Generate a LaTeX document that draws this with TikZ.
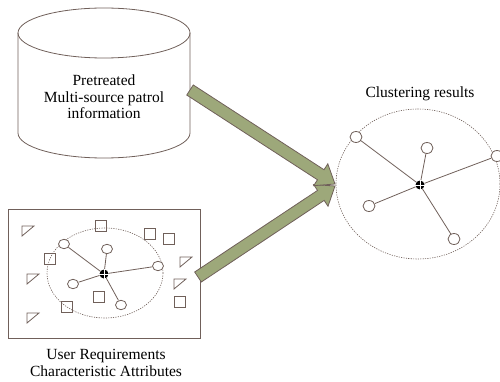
\documentclass[tikz,border=0pt]{standalone}
\usepackage{fontspec}
\setmainfont{Liberation Serif}
\usetikzlibrary{calc,shapes.geometric}
\definecolor{edgec}{RGB}{112,96,90}
\definecolor{arrowfill}{RGB}{157,168,122}
\begin{document}
\begin{tikzpicture}[x=1pt,y=-1pt,
  every node/.style={inner sep=0pt},
  ln/.style={draw=edgec, line width=0.8pt},
  dotted ellipse/.style={draw=edgec, line width=0.6pt, dash pattern=on 1.2pt off 1.2pt},
  smallc/.style={ellipse, draw=edgec, line width=0.8pt, fill=white, minimum width=11pt, minimum height=9.5pt},
  hub/.style={circle, fill=black, minimum size=9pt},
  sq/.style={rectangle, draw=edgec, line width=0.8pt, minimum size=11pt},
  lbl/.style={align=center, font=\fontsize{15.5}{16.5}\selectfont},
  flagpic/.pic={\draw[edgec, line width=0.8pt] (6,-5) -- (-6,-5) -- (-6,5) -- cycle;},
  fatarrow/.style={fill=arrowfill, draw=edgec, line width=0.8pt, line join=miter}
]
\useasboundingbox (0,0) rectangle (500,382);

% cylinder
\draw[ln] (18,33) -- (18,133) arc[start angle=180, end angle=0, x radius=86, y radius=25] -- (190,33);
\draw[ln] (104,33) ellipse[x radius=86, y radius=25];
\node[lbl] (cyl) at (104,97) {Pretreated\\Multi-source patrol\\information};

% left box
\draw[ln] (8,209) rectangle (200,338);
\node[lbl] (req) at (106,363) {User Requirements\\Characteristic Attributes};
\draw[dotted ellipse] (105,273) ellipse[x radius=58, y radius=45];
\foreach \p in {(101,226),(150,234),(169,239),(50,259),(99,297),(67,307),(180,302)}
  \node[sq] at \p {};
\foreach \p in {(28,231),(186,262),(33,279),(180,284),(33,318)}
  \pic at \p {flagpic};
\node[smallc] (l1) at (64,244) {};
\node[smallc] (l2) at (107,249) {};
\node[smallc] (l3) at (158,266) {};
\node[smallc] (l4) at (73,284) {};
\node[smallc] (l5) at (121,305) {};
\node[hub] (lc) at (104,274) {};
\foreach \n in {l1,l2,l3,l4,l5} \draw[ln] (lc) -- (\n);
\draw[white, line width=0.5pt] (lc.north) -- (lc.south) (lc.west) -- (lc.east);

% right cluster
\node[lbl] (res) at (420,94) {Clustering results};
\draw[dotted ellipse] (418,184) ellipse[x radius=82, y radius=75];
\node[smallc, minimum width=12pt, minimum height=11pt] (r1) at (356,137) {};
\node[smallc, minimum width=12pt, minimum height=11pt] (r2) at (427,148) {};
\node[smallc, minimum width=12pt, minimum height=11pt] (r3) at (497,156) {};
\node[smallc, minimum width=12pt, minimum height=11pt] (r4) at (369,206) {};
\node[smallc, minimum width=12pt, minimum height=11pt] (r5) at (454,239) {};
\node[hub] (rc) at (420,185) {};
\foreach \n in {r1,r2,r3,r4,r5} \draw[ln] (rc) -- (\n);
\draw[white, line width=0.5pt] (rc.north) -- (rc.south) (rc.west) -- (rc.east);

% arrows
\coordinate (S2) at (198,277);
\coordinate (T2) at (335,186);
\coordinate (B2) at ($(T2)!17pt!(S2)$);
\draw[fatarrow] ($(S2)!6pt!90:(T2)$) -- ($(B2)!6pt!-90:(S2)$) -- ($(B2)!13pt!-90:(S2)$) -- (T2)
  -- ($(B2)!13pt!90:(S2)$) -- ($(B2)!6pt!90:(S2)$) -- ($(S2)!6pt!-90:(T2)$) -- cycle;
\coordinate (S1) at (190,90);
\coordinate (T1) at (335,184);
\coordinate (B1) at ($(T1)!17pt!(S1)$);
\draw[fatarrow] ($(S1)!6pt!90:(T1)$) -- ($(B1)!6pt!-90:(S1)$) -- ($(B1)!13pt!-90:(S1)$) -- (T1)
  -- ($(B1)!13pt!90:(S1)$) -- ($(B1)!6pt!90:(S1)$) -- ($(S1)!6pt!-90:(T1)$) -- cycle;
\end{tikzpicture}
\end{document}
